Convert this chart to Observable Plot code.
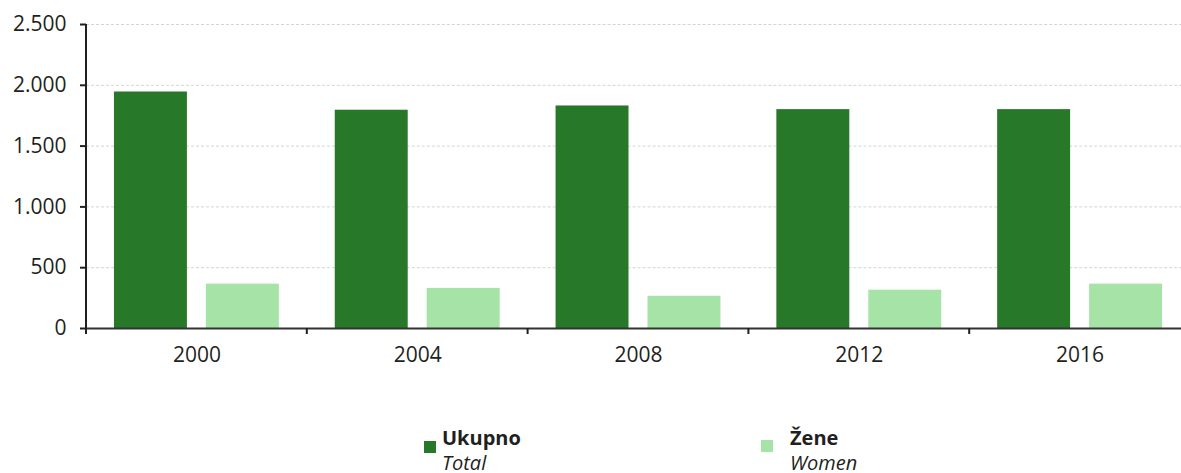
<!DOCTYPE html>
<html>
<head>
<meta charset="utf-8">
<script src="https://cdn.jsdelivr.net/npm/d3@7"></script>
<script src="https://cdn.jsdelivr.net/npm/@observablehq/plot@0.6"></script>
<style>
  html, body { margin: 0; padding: 0; background: #fff; overflow: hidden; }
  #wrap { position: relative; width: 1181px; height: 473px; overflow: hidden; font-family: "Open Sans", sans-serif; color: #231f20; }
  #chart { position: absolute; left: 0; top: 0; width: 1190px; }
  #chart svg { max-width: none !important; }
  .sw { position: absolute; width: 12px; height: 12px; }
  .lt { position: absolute; font-size: 20px; line-height: 25px; white-space: nowrap; }
  .lt b { font-weight: 700; display: block; }
  .lt i { font-style: italic; display: block; }
</style>
</head>
<body>
<div id="wrap">
  <div id="chart"></div>
</div>
<script>
const years = ["2000", "2004", "2008", "2012", "2016"];
const seriesNames = ["Ukupno", "Žene"];
const seriesNamesEn = ["Total", "Women"];
const total = [1945, 1795, 1830, 1800, 1800];
const women = [365, 330, 265, 315, 365];
const colors = ["#277829", "#a6e3a6"];
const yTicks = [0, 500, 1000, 1500, 2000, 2500];

const data = years.flatMap((yr, i) => [
  {year: yr, series: seriesNames[0], value: total[i]},
  {year: yr, series: seriesNames[1], value: women[i]}
]);

const fmt = d3.formatLocale({decimal: ",", thousands: ".", grouping: [3], currency: ["", ""]}).format(",d");

const plot = Plot.plot({
  width: 1190,
  height: 378,
  marginLeft: 86,
  marginRight: 0,
  marginTop: 24,
  marginBottom: 50,
  style: {fontFamily: "Open Sans", fontSize: "21px", color: "#231f20", background: "transparent", maxWidth: "none"},
  fx: {domain: years, padding: 0, round: false, label: null},
  x: {domain: seriesNames, paddingInner: 0.2065, paddingOuter: 0.304, round: false, axis: null},
  y: {domain: [0, 2500], label: null},
  color: {domain: seriesNames, range: colors},
  marks: [
    Plot.gridY(yTicks, {stroke: "#d4d4d4", strokeOpacity: 1, strokeDasharray: "3,2"}),
    Plot.barY(data, {fx: "year", x: "series", y: "value", fill: "series"}),
    Plot.ruleY([0], {stroke: "#333", strokeWidth: 2}),
    Plot.axisY(yTicks, {anchor: "left", tickFormat: fmt, tickSize: 6, tickPadding: 14, stroke: "#231f20", strokeWidth: 2, label: null}),
    Plot.axisFx({anchor: "bottom", tickSize: 0, tickPadding: 19, label: null})
  ]
});
document.getElementById("chart").appendChild(plot);

// axis line on the left and category-boundary ticks, positioned through Plot's scales
const fxS = plot.scale("fx"), yS = plot.scale("y");
const svg = d3.select(plot);
const g = svg.append("g").attr("stroke", "#231f20");
const x0 = fxS.apply(years[0]);
g.append("line")
  .attr("x1", x0).attr("x2", x0)
  .attr("y1", yS.apply(yTicks[yTicks.length - 1])).attr("y2", yS.apply(0) + 6)
  .attr("stroke-width", 2);
const bounds = years.map(yr => fxS.apply(yr)).concat([fxS.apply(years[years.length - 1]) + fxS.bandwidth]);
bounds.slice(1).forEach(b => {
  g.append("line")
    .attr("x1", b).attr("x2", b)
    .attr("y1", yS.apply(0)).attr("y2", yS.apply(0) + 6)
    .attr("stroke-width", 2);
});

// legend below the chart
const wrap = document.getElementById("wrap");
const legendPos = [
  {sw: [424, 441], txt: [442, 425]},
  {sw: [761, 440], txt: [790, 425]}
];
seriesNames.forEach((name, i) => {
  const sw = document.createElement("div");
  sw.className = "sw";
  sw.style.left = legendPos[i].sw[0] + "px";
  sw.style.top = legendPos[i].sw[1] + "px";
  sw.style.background = colors[i];
  wrap.appendChild(sw);
  const t = document.createElement("div");
  t.className = "lt";
  t.style.left = legendPos[i].txt[0] + "px";
  t.style.top = legendPos[i].txt[1] + "px";
  t.innerHTML = "<b></b><i></i>";
  t.querySelector("b").textContent = name;
  t.querySelector("i").textContent = seriesNamesEn[i];
  wrap.appendChild(t);
});
</script>
</body>
</html>
